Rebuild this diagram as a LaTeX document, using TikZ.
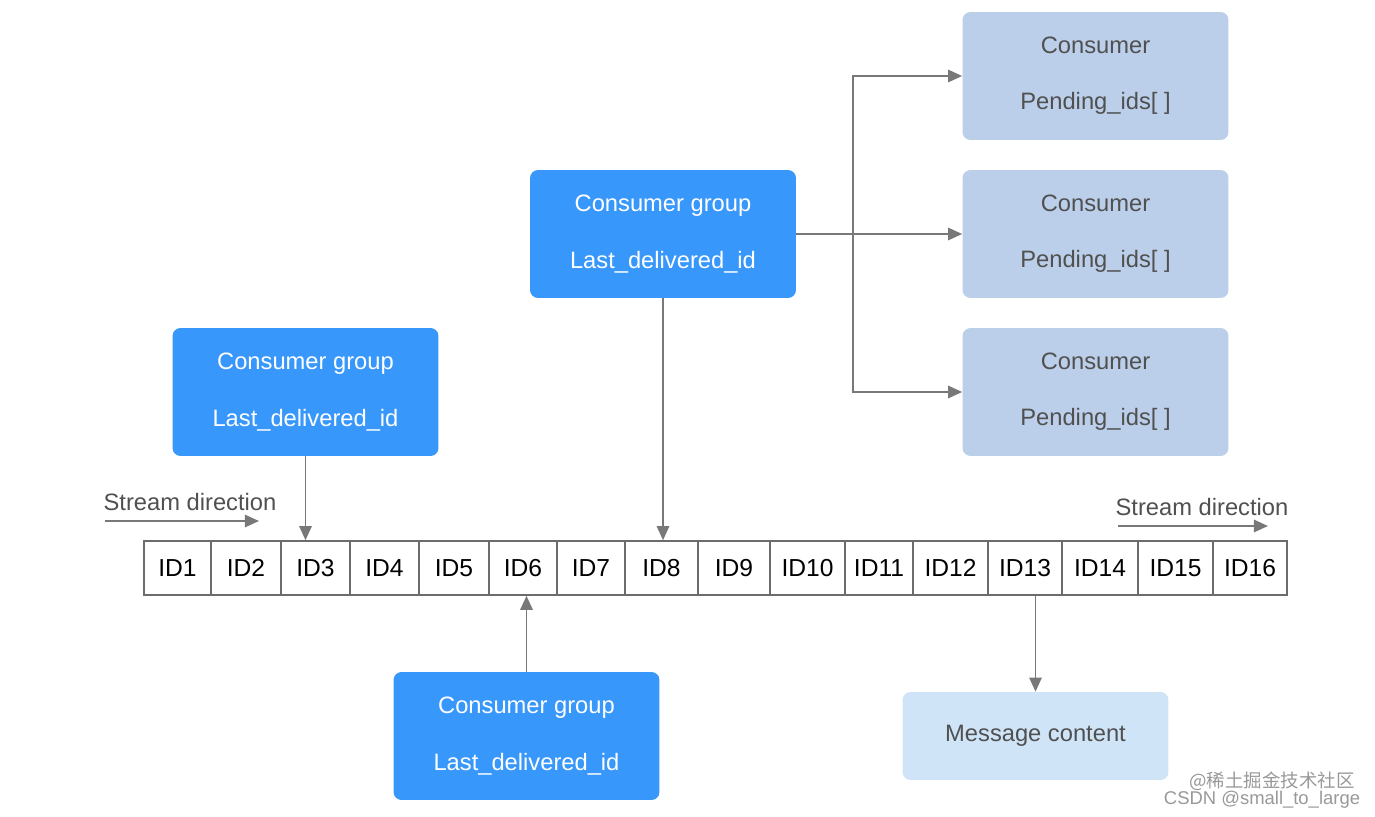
\documentclass[tikz,border=0pt]{standalone}
\usepackage{fontspec}
\setmainfont{Liberation Sans}
\newfontfamily\cjkfont{Noto Sans CJK SC}
\usetikzlibrary{arrows.meta}
\definecolor{groupblue}{RGB}{55,151,251}
\definecolor{consblue}{RGB}{187,207,234}
\definecolor{msgblue}{RGB}{208,228,248}
\definecolor{arrowgray}{RGB}{120,120,120}
\definecolor{textgray}{RGB}{80,80,80}
\tikzset{
    box/.style={rounded corners=0.16cm, inner sep=0pt, align=center,
        minimum width=5.32cm, minimum height=2.56cm,
        font=\fontsize{13.5}{32}\selectfont},
    groupbox/.style={box, fill=groupblue, text=white},
    consbox/.style={box, fill=consblue, text=textgray},
    msgbox/.style={box, fill=msgblue, text=textgray, minimum height=1.76cm},
    cell/.style={draw=arrowgray!90!black, line width=0.9pt, inner sep=0pt,
        minimum height=1.08cm, font=\fontsize{14}{16}\selectfont},
    flow/.style={draw=arrowgray, line width=1.1pt,
        -{Triangle[length=8pt,width=7pt]}}
}

\begin{document}
\begin{tikzpicture}[x=0.02cm, y=-0.02cm]

    \useasboundingbox[fill=white] (0,0) rectangle (1375,817);

    %Consumer groups
    \node[groupbox] (cg1) at (663,234)   {Consumer group\\Last\_delivered\_id};
    \node[groupbox] (cg2) at (305.5,392) {Consumer group\\Last\_delivered\_id};
    \node[groupbox] (cg3) at (526.5,736) {Consumer group\\Last\_delivered\_id};

    %Consumers
    \node[consbox] (con1) at (1095.5,76)  {Consumer\\Pending\_ids[ ]};
    \node[consbox] (con2) at (1095.5,234) {Consumer\\Pending\_ids[ ]};
    \node[consbox] (con3) at (1095.5,392) {Consumer\\Pending\_ids[ ]};

    %Message
    \node[msgbox] (msg) at (1035.5,736) {Message content};

    %Stream
    \foreach \i/\l/\r in {1/144/211, 2/211/281, 3/281/350, 4/350/419,
        5/419/489, 6/489/557, 7/557/625, 8/625/698, 9/698/770,
        10/770/845, 11/845/913, 12/913/988, 13/988/1062,
        14/1062/1138, 15/1138/1213, 16/1213/1287}
        \node[cell, minimum width={(\r-\l)*0.02cm}] (id\i)
            at ({(\l+\r)/2},568) {ID\i};

    %Stream direction
    \node[text=textgray, font=\fontsize{13.5}{16}\selectfont] (sdl) at (190,502)
        {Stream direction};
    \node[text=textgray, font=\fontsize{13.5}{16}\selectfont] (sdr) at (1202,507)
        {Stream direction};
    \coordinate (sdla) at (105,521);
    \coordinate (sdlb) at (259,521);
    \coordinate (sdra) at (1118,526);
    \coordinate (sdrb) at (1268,526);
    \draw[flow] (sdla) -- (sdlb);
    \draw[flow] (sdra) -- (sdrb);

    %Pfeile
    \draw[flow] (cg1.south) -- (cg1.south |- id8.north);
    \draw[flow] (cg2.south) -- (cg2.south |- id3.north);
    \draw[flow] (cg3.north) -- (cg3.north |- id6.south);
    \draw[flow] (msg.north |- id13.south) -- (msg.north);

    %Verzweigung
    \coordinate (fork) at (853,234);
    \draw[arrowgray, line width=1.6pt] (cg1.east) -- (fork);
    \draw[flow] (fork) |- (con1.west);
    \draw[flow] (fork) -- (con2.west);
    \draw[flow] (fork) |- (con3.west);

    %Wasserzeichen
    \node[text=black!40, font=\cjkfont\fontsize{10.5}{12}\selectfont] (wm1)
        at (1272,781) {@稀土掘金技术社区};
    \node[text=black!40, font=\fontsize{10.5}{12}\selectfont] (wm2)
        at (1262,800) {CSDN @small\_to\_large};

\end{tikzpicture}
\end{document}
